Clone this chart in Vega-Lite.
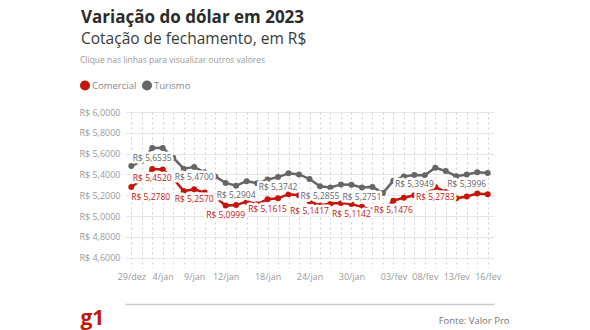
{
  "$schema": "https://vega.github.io/schema/vega-lite/v6.json",
  "width": 369,
  "height": 156,
  "autosize": {"type": "none"},
  "padding": {"left": 125, "top": 112, "right": 96, "bottom": 62},
  "background": "white",
  "config": {
    "font": "Open Sans",
    "view": {"stroke": null}
  },
  "title": {
    "text": "Variação do dólar em 2023",
    "subtitle": "Cotação de fechamento, em R$",
    "anchor": "start",
    "frame": "group",
    "dx": -44,
    "offset": 8,
    "font": "Open Sans",
    "fontSize": 17,
    "fontWeight": "bold",
    "color": "#2b2b2b",
    "subtitleFont": "Open Sans",
    "subtitleFontSize": 15.5,
    "subtitleColor": "#3a3a3a",
    "subtitlePadding": 5
  },
  "data": {
    "values": [
      {"d": "29/dez", "s": "Comercial", "v": 5.2780, "l": 1}, {"d": "29/dez", "s": "Turismo", "v": 5.4800, "l": 0},
      {"d": "2/jan", "s": "Comercial", "v": 5.3500, "l": 0}, {"d": "2/jan", "s": "Turismo", "v": 5.5300, "l": 0},
      {"d": "3/jan", "s": "Comercial", "v": 5.4520, "l": 1}, {"d": "3/jan", "s": "Turismo", "v": 5.6535, "l": 1},
      {"d": "4/jan", "s": "Comercial", "v": 5.4480, "l": 0}, {"d": "4/jan", "s": "Turismo", "v": 5.6550, "l": 0},
      {"d": "5/jan", "s": "Comercial", "v": 5.3600, "l": 0}, {"d": "5/jan", "s": "Turismo", "v": 5.5600, "l": 0},
      {"d": "6/jan", "s": "Comercial", "v": 5.2400, "l": 0}, {"d": "6/jan", "s": "Turismo", "v": 5.4550, "l": 0},
      {"d": "9/jan", "s": "Comercial", "v": 5.2570, "l": 1}, {"d": "9/jan", "s": "Turismo", "v": 5.4700, "l": 1},
      {"d": "10/jan", "s": "Comercial", "v": 5.2250, "l": 0}, {"d": "10/jan", "s": "Turismo", "v": 5.4200, "l": 0},
      {"d": "11/jan", "s": "Comercial", "v": 5.1850, "l": 0}, {"d": "11/jan", "s": "Turismo", "v": 5.3800, "l": 0},
      {"d": "12/jan", "s": "Comercial", "v": 5.0999, "l": 1}, {"d": "12/jan", "s": "Turismo", "v": 5.3180, "l": 0},
      {"d": "13/jan", "s": "Comercial", "v": 5.1050, "l": 0}, {"d": "13/jan", "s": "Turismo", "v": 5.2904, "l": 1},
      {"d": "16/jan", "s": "Comercial", "v": 5.1380, "l": 0}, {"d": "16/jan", "s": "Turismo", "v": 5.3350, "l": 0},
      {"d": "17/jan", "s": "Comercial", "v": 5.1140, "l": 0}, {"d": "17/jan", "s": "Turismo", "v": 5.3150, "l": 0},
      {"d": "18/jan", "s": "Comercial", "v": 5.1615, "l": 1}, {"d": "18/jan", "s": "Turismo", "v": 5.3500, "l": 0},
      {"d": "19/jan", "s": "Comercial", "v": 5.1700, "l": 0}, {"d": "19/jan", "s": "Turismo", "v": 5.3742, "l": 1},
      {"d": "20/jan", "s": "Comercial", "v": 5.2100, "l": 0}, {"d": "20/jan", "s": "Turismo", "v": 5.4100, "l": 0},
      {"d": "23/jan", "s": "Comercial", "v": 5.2000, "l": 0}, {"d": "23/jan", "s": "Turismo", "v": 5.4000, "l": 0},
      {"d": "24/jan", "s": "Comercial", "v": 5.1417, "l": 1}, {"d": "24/jan", "s": "Turismo", "v": 5.3560, "l": 0},
      {"d": "25/jan", "s": "Comercial", "v": 5.1000, "l": 0}, {"d": "25/jan", "s": "Turismo", "v": 5.2855, "l": 1},
      {"d": "26/jan", "s": "Comercial", "v": 5.1200, "l": 0}, {"d": "26/jan", "s": "Turismo", "v": 5.2750, "l": 0},
      {"d": "27/jan", "s": "Comercial", "v": 5.1250, "l": 0}, {"d": "27/jan", "s": "Turismo", "v": 5.3040, "l": 0},
      {"d": "30/jan", "s": "Comercial", "v": 5.1142, "l": 1}, {"d": "30/jan", "s": "Turismo", "v": 5.3000, "l": 0},
      {"d": "31/jan", "s": "Comercial", "v": 5.0880, "l": 0}, {"d": "31/jan", "s": "Turismo", "v": 5.2751, "l": 1},
      {"d": "01/fev", "s": "Comercial", "v": 5.0560, "l": 0}, {"d": "01/fev", "s": "Turismo", "v": 5.2800, "l": 0},
      {"d": "02/fev", "s": "Comercial", "v": 5.0500, "l": 0}, {"d": "02/fev", "s": "Turismo", "v": 5.2200, "l": 0},
      {"d": "03/fev", "s": "Comercial", "v": 5.1476, "l": 1}, {"d": "03/fev", "s": "Turismo", "v": 5.3400, "l": 0},
      {"d": "06/fev", "s": "Comercial", "v": 5.1750, "l": 0}, {"d": "06/fev", "s": "Turismo", "v": 5.3800, "l": 0},
      {"d": "07/fev", "s": "Comercial", "v": 5.2000, "l": 0}, {"d": "07/fev", "s": "Turismo", "v": 5.3949, "l": 1},
      {"d": "08/fev", "s": "Comercial", "v": 5.2070, "l": 0}, {"d": "08/fev", "s": "Turismo", "v": 5.3920, "l": 0},
      {"d": "09/fev", "s": "Comercial", "v": 5.2783, "l": 1}, {"d": "09/fev", "s": "Turismo", "v": 5.4640, "l": 0},
      {"d": "10/fev", "s": "Comercial", "v": 5.2300, "l": 0}, {"d": "10/fev", "s": "Turismo", "v": 5.4320, "l": 0},
      {"d": "13/fev", "s": "Comercial", "v": 5.1700, "l": 0}, {"d": "13/fev", "s": "Turismo", "v": 5.3830, "l": 0},
      {"d": "14/fev", "s": "Comercial", "v": 5.1880, "l": 0}, {"d": "14/fev", "s": "Turismo", "v": 5.3996, "l": 1},
      {"d": "15/fev", "s": "Comercial", "v": 5.2160, "l": 0}, {"d": "15/fev", "s": "Turismo", "v": 5.4200, "l": 0},
      {"d": "16/fev", "s": "Comercial", "v": 5.2100, "l": 0}, {"d": "16/fev", "s": "Turismo", "v": 5.4130, "l": 0}
    ]
  },
  "transform": [
    {"calculate": "'R$ ' + replace(format(datum.v, '.4f'), '.', ',')", "as": "txt"}
  ],
  "encoding": {
    "x": {
      "field": "d",
      "type": "ordinal",
      "sort": null,
      "scale": {"type": "point", "padding": 0.6},
      "axis": {
        "title": "Fonte: Valor Pro",
        "titleX": 384,
        "titleY": 19,
        "titleAlign": "right",
        "titleAnchor": null,
        "titleBaseline": "alphabetic",
        "titleFontSize": 9.5,
        "titleFontWeight": "normal",
        "titleColor": "#777777",
        "labelAngle": 0,
        "labelOverlap": false,
        "labelFontSize": 9,
        "labelColor": "#9a9a9a",
        "labelPadding": -32,
        "labelExpr": "indexof(['29/dez','4/jan','9/jan','12/jan','18/jan','24/jan','30/jan','03/fev','08/fev','13/fev','16/fev'], datum.label) >= 0 ? datum.label : ''",
        "ticks": false,
        "tickSize": 0,
        "domain": true,
        "domainColor": "#cccccc",
        "domainWidth": 1.5,
        "offset": 36,
        "grid": true,
        "gridColor": "#cfcfcf",
        "gridDash": [2, 3],
        "gridWidth": 1
      }
    },
    "y": {
      "field": "v",
      "type": "quantitative",
      "scale": {"domain": [4.5, 6.0], "nice": false, "zero": false},
      "axis": {
        "values": [4.6, 4.8, 5.0, 5.2, 5.4, 5.6, 5.8, 6.0],
        "labelExpr": "'R$ ' + replace(format(datum.value, '.4f'), '.', ',')",
        "labelFontSize": 9,
        "labelColor": "#9a9a9a",
        "labelPadding": 5,
        "ticks": false,
        "domain": false,
        "grid": true,
        "gridColor": "#e6e6e6",
        "gridWidth": 1,
        "title": "g1",
        "titleAngle": 0,
        "titleX": -45,
        "titleY": 212,
        "titleAlign": "left",
        "titleBaseline": "alphabetic",
        "titleFontSize": 21,
        "titleFontWeight": "bold",
        "titleColor": "#c4170c"
      }
    },
    "color": {
      "field": "s",
      "type": "nominal",
      "scale": {"domain": ["Comercial", "Turismo"], "range": ["#c4170c", "#666666"]}
    }
  },
  "layer": [
    {
      "mark": {"type": "circle", "size": 36, "opacity": 1},
      "encoding": {
        "color": {
          "field": "s",
          "type": "nominal",
          "legend": {
            "orient": "none",
            "legendX": -45,
            "legendY": -56,
            "direction": "horizontal",
            "title": "Clique nas linhas para visualizar outros valores",
            "titleLimit": 400,
            "titleFontSize": 8.5,
            "titleFontWeight": "normal",
            "titleColor": "#9a9a9a",
            "titlePadding": 16,
            "symbolType": "circle",
            "symbolSize": 100,
            "symbolStrokeWidth": 0,
            "labelFontSize": 9.5,
            "labelColor": "#888888",
            "labelOffset": 2,
            "columnPadding": 5,
            "padding": 0
          }
        }
      }
    },
    {
      "mark": {"type": "line", "strokeWidth": 2.5},
      "encoding": {"color": {"field": "s", "type": "nominal", "legend": null}}
    },
    {
      "transform": [{"filter": "datum.l == 1 && !(datum.d == '29/dez')"}],
      "mark": {"type": "text", "fontSize": 8.5, "dy": 9.5, "baseline": "middle", "align": "center", "stroke": "white", "strokeWidth": 5, "strokeJoin": "round", "fill": "white"},
      "encoding": {"text": {"field": "txt"}, "color": {"value": "white"}}
    },
    {
      "transform": [{"filter": "datum.l == 1 && datum.d == '29/dez'"}],
      "mark": {"type": "text", "fontSize": 8.5, "dy": 9.5, "baseline": "middle", "align": "left", "stroke": "white", "strokeWidth": 5, "strokeJoin": "round", "fill": "white"},
      "encoding": {"text": {"field": "txt"}, "color": {"value": "white"}}
    },
    {
      "transform": [{"filter": "datum.l == 1 && !(datum.d == '29/dez')"}],
      "mark": {"type": "text", "fontSize": 8.5, "dy": 9.5, "baseline": "middle", "align": "center"},
      "encoding": {"text": {"field": "txt"}, "color": {"field": "s", "type": "nominal", "legend": null}}
    },
    {
      "transform": [{"filter": "datum.l == 1 && datum.d == '29/dez'"}],
      "mark": {"type": "text", "fontSize": 8.5, "dy": 9.5, "baseline": "middle", "align": "left"},
      "encoding": {"text": {"field": "txt"}, "color": {"field": "s", "type": "nominal", "legend": null}}
    }
  ]
}
